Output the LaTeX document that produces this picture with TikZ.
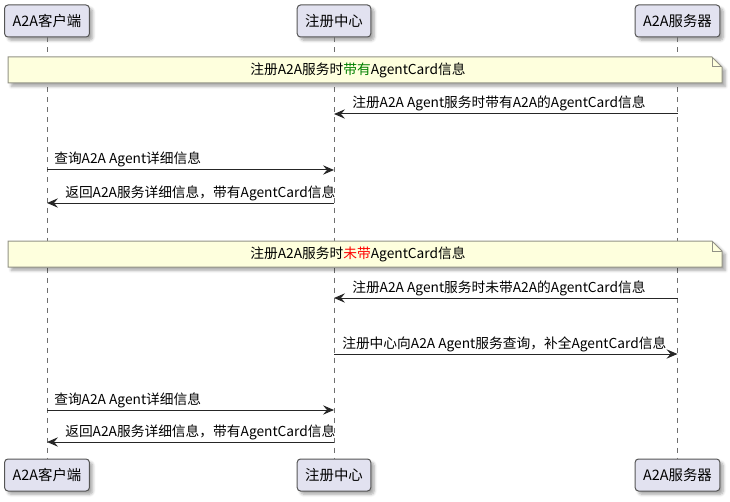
\documentclass[tikz,border=0pt]{standalone}
\usepackage{fontspec}
\setmainfont{Noto Sans CJK SC}
\usepackage{tikz}
\usetikzlibrary{arrows.meta}
\usetikzlibrary{shadows.blur}

\definecolor{boxfill}{HTML}{E2E2F0}
\definecolor{boxline}{HTML}{555555}
\definecolor{notefill}{HTML}{FEFFDD}
\definecolor{noteline}{HTML}{929286}
\definecolor{lifeline}{HTML}{6E6E6E}
\definecolor{okgreen}{HTML}{008000}
\definecolor{nored}{HTML}{FF0000}

\tikzset{
  actor/.style={draw=boxline, fill=boxfill, line width=0.75pt, rounded corners=2.5pt,
    minimum height=24pt, inner xsep=6pt, font=\fontsize{10.8pt}{12pt}\selectfont,
    blur shadow={shadow xshift=2.5pt, shadow yshift=-2.5pt, shadow blur steps=6, shadow opacity=35}},
  life/.style={draw=lifeline, line width=0.6pt, dash pattern=on 3.75pt off 3.75pt},
  msg/.style={draw=black!85, line width=0.75pt, -{Stealth[length=8.25pt,width=7pt,inset=3pt]}},
  msgtxt/.style={anchor=base west, inner sep=0pt, font=\fontsize{10.3pt}{12pt}\selectfont},
  notebox/.style={draw=noteline, fill=notefill, line width=0.75pt,
    blur shadow={shadow xshift=2.5pt, shadow yshift=-2.5pt, shadow blur steps=6, shadow opacity=35}},
  notetxt/.style={inner sep=0pt, font=\fontsize{10.3pt}{12pt}\selectfont},
}

\begin{document}
\begin{tikzpicture}[x=0.75pt,y=0.75pt,yscale=-1,xscale=1]
\useasboundingbox (0,0) rectangle (730,502);

%Participants: top
\node[actor] (cliT) at (47,21) {A2A客户端};
\node[actor] (regT) at (334,21) {注册中心};
\node[actor] (srvT) at (677.5,21) {A2A服务器};
%Participants: bottom
\node[actor] (cliB) at (47,475) {A2A客户端};
\node[actor] (regB) at (334,475) {注册中心};
\node[actor] (srvB) at (677.5,475) {A2A服务器};

%Lifelines
\draw[life] (cliT) -- (cliB);
\draw[life] (regT) -- (regB);
\draw[life] (srvT) -- (srvB);

%Note: with card
\path[notebox] (8,57) -- (712,57) -- (722,67) -- (722,83) -- (8,83) -- cycle;
\draw[draw=noteline, line width=0.75pt] (712,57) -- (712,67) -- (722,67);
\node[notetxt] (note1) at (358,70) {注册A2A服务时\textcolor{okgreen}{带有}AgentCard信息};

%Messages 1-3
\coordinate (m1) at (0,114);
\draw[msg] (srvT |- m1) -- (regT |- m1);
\path (regT |- m1) ++(18,-6) node[msgtxt] (t1) {注册A2A Agent服务时带有A2A的AgentCard信息};

\coordinate (m2) at (0,170);
\draw[msg] (cliT |- m2) -- (regT |- m2);
\path (cliT |- m2) ++(7,-6) node[msgtxt] (t2) {查询A2A Agent详细信息};

\coordinate (m3) at (0,203);
\draw[msg] (regT |- m3) -- (cliT |- m3);
\path (cliT |- m3) ++(18,-6) node[msgtxt] (t3) {返回A2A服务详细信息，带有AgentCard信息};

%Note: without card
\path[notebox] (8,241) -- (712,241) -- (722,251) -- (722,267) -- (8,267) -- cycle;
\draw[draw=noteline, line width=0.75pt] (712,241) -- (712,251) -- (722,251);
\node[notetxt] (note2) at (358,254) {注册A2A服务时\textcolor{nored}{未带}AgentCard信息};

%Messages 4-7
\coordinate (m4) at (0,298);
\draw[msg] (srvT |- m4) -- (regT |- m4);
\path (regT |- m4) ++(18,-6) node[msgtxt] (t4) {注册A2A Agent服务时未带A2A的AgentCard信息};

\coordinate (m5) at (0,354);
\draw[msg] (regT |- m5) -- (srvT |- m5);
\path (regT |- m5) ++(8,-6) node[msgtxt] (t5) {注册中心向A2A Agent服务查询，补全AgentCard信息};

\coordinate (m6) at (0,410);
\draw[msg] (cliT |- m6) -- (regT |- m6);
\path (cliT |- m6) ++(7,-6) node[msgtxt] (t6) {查询A2A Agent详细信息};

\coordinate (m7) at (0,442);
\draw[msg] (regT |- m7) -- (cliT |- m7);
\path (cliT |- m7) ++(18,-6) node[msgtxt] (t7) {返回A2A服务详细信息，带有AgentCard信息};
\end{tikzpicture}
\end{document}
